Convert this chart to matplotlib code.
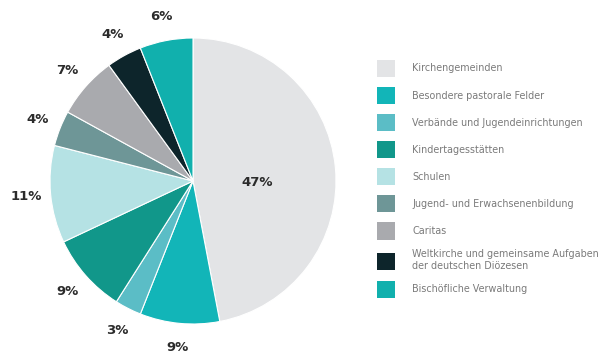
import numpy as np
import matplotlib.pyplot as plt
from matplotlib.patches import Patch

# Anteile in Prozent
kategorien = [
    "Kirchengemeinden",
    "Besondere pastorale Felder",
    "Verbände und Jugendeinrichtungen",
    "Kindertagesstätten",
    "Schulen",
    "Jugend- und Erwachsenenbildung",
    "Caritas",
    "Weltkirche und gemeinsame Aufgaben\nder deutschen Diözesen",
    "Bischöfliche Verwaltung",
]
anteile = [47, 9, 3, 9, 11, 4, 7, 4, 6]
farben = ["#e3e4e6", "#12b5b8", "#5bbdc6", "#11978a", "#b5e2e4",
          "#6e9697", "#a9aaae", "#0d252b", "#11b0ad"]

fig = plt.figure(figsize=(6.04, 3.53), dpi=100)
ax = fig.add_axes([50 / 604, 29 / 353, 286 / 604, 286 / 353])

wedges, texts = ax.pie(
    anteile, colors=farben, startangle=90, counterclock=False,
    labels=[f"{v}%" for v in anteile], labeldistance=1.17,
    wedgeprops=dict(edgecolor="white", linewidth=0.8),
    textprops=dict(fontsize=9.5, fontweight="bold", color="#2b2b2b"),
)
for t in texts:
    t.set_horizontalalignment("center")
    t.set_verticalalignment("center")

# grosses Segment innen beschriften
texts[0].set_position((0.45, -0.01))

ax.set_xlim(-1, 1)
ax.set_ylim(-1, 1)
ax.set_aspect("equal")
ax.axis("off")

handles = [Patch(facecolor=c, edgecolor="none") for c in farben]
leg = fig.legend(
    handles, kategorien, loc="upper left",
    bbox_to_anchor=(373 / 604, 1 - 56 / 353),
    frameon=False, fontsize=6.9, labelcolor="#7a7a7a",
    handlelength=1.9, handleheight=2.4, handletextpad=1.8,
    labelspacing=1.02, borderaxespad=0,
)

fig.savefig("out.png", dpi=100, facecolor="white")
